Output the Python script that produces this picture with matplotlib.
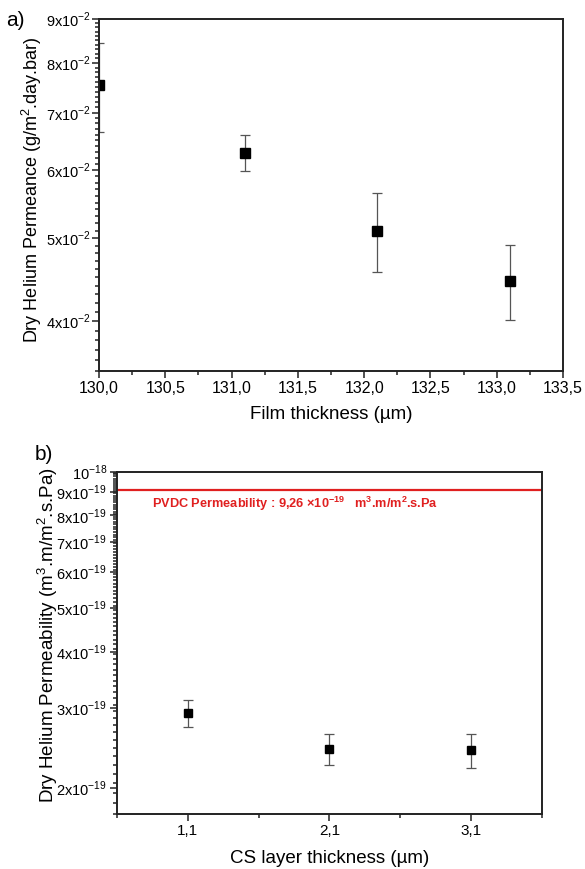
import numpy as np
import matplotlib
matplotlib.use("Agg")
import matplotlib.pyplot as plt
from matplotlib.ticker import FixedLocator, FuncFormatter, NullFormatter

plt.rcParams["font.family"] = ["Liberation Sans", "DejaVu Sans"]
plt.rcParams["mathtext.fontset"] = "custom"
plt.rcParams["mathtext.rm"] = "Liberation Sans"
plt.rcParams["mathtext.bf"] = "Liberation Sans:bold"

# panel a: film thickness vs dry helium permeance
film_thickness = [130.0, 131.1, 132.1, 133.1]
permeance = [0.0754, 0.0629, 0.0510, 0.0446]
permeance_err = [0.0090, 0.0031, 0.0054, 0.0045]

# panel b: CS layer thickness vs dry helium permeability
cs_thickness = [1.1, 2.1, 3.1]
permeability = [2.92e-19, 2.44e-19, 2.42e-19]
permeability_err = [0.20e-19, 0.19e-19, 0.21e-19]
pvdc_line = 9.1e-19

a_yticks = [0.04, 0.05, 0.06, 0.07, 0.08, 0.09]
a_xticks = [130.0, 130.5, 131.0, 131.5, 132.0, 132.5, 133.0, 133.5]
b_yticks = [2e-19, 3e-19, 4e-19, 5e-19, 6e-19, 7e-19, 8e-19, 9e-19, 1e-18]
b_ylabels = [r"2x10$^{-19}$", r"3x10$^{-19}$", r"4x10$^{-19}$", r"5x10$^{-19}$",
             r"6x10$^{-19}$", r"7x10$^{-19}$", r"8x10$^{-19}$", r"9x10$^{-19}$", r"10$^{-18}$"]


def style_axes(ax):
    for s in ax.spines.values():
        s.set_linewidth(1.4)
        s.set_color("#222222")
    ax.tick_params(which="both", direction="out", top=False, right=False, width=1.1, color="#222222")
    ax.tick_params(which="major", length=5, pad=2)
    ax.tick_params(which="minor", length=3)


fig = plt.figure(figsize=(5.85, 8.69), dpi=100)

# ---- a) ----
ax1 = fig.add_axes([0.1692, 0.5731, 0.7932, 0.4050])
ax1.errorbar(film_thickness, permeance, yerr=permeance_err, fmt="s", color="black",
             ms=6.5, ecolor="#555555", elinewidth=0.9, capsize=3.5, capthick=0.9)
ax1.set_yscale("log")
ax1.set_xlim(130.0, 133.5)
ax1.set_ylim(0.035, 0.09)
ax1.yaxis.set_major_locator(FixedLocator(a_yticks))
ax1.yaxis.set_minor_locator(FixedLocator(np.arange(0.035, 0.0905, 0.001)))
ax1.yaxis.set_major_formatter(FuncFormatter(lambda v, p: r"%dx10$^{-2}$" % round(v * 100)))
ax1.yaxis.set_minor_formatter(NullFormatter())
ax1.xaxis.set_major_locator(FixedLocator(a_xticks))
ax1.xaxis.set_minor_locator(FixedLocator(np.arange(130.25, 133.5, 0.5)))
ax1.xaxis.set_major_formatter(FuncFormatter(lambda v, p: f"{v:.1f}".replace(".", ",")))
style_axes(ax1)
ax1.tick_params(axis="y", labelsize=10.5, pad=1)
ax1.tick_params(axis="x", labelsize=11.5)
ax1.set_ylabel("Dry Helium Permeance (g/m$^{2}$.day.bar)", fontsize=13)
ax1.yaxis.set_label_coords(-0.118, 0.515)
ax1.set_xlabel("Film thickness (\u00b5m)", fontsize=13.5)
ax1.xaxis.set_label_coords(0.5, -0.1)
fig.text(15 / 585, 1 - 20 / 869, "a)", fontsize=15, ha="center", va="center")

# ---- b) ----
ax2 = fig.add_axes([0.2, 0.0633, 0.726, 0.3941])
ax2.errorbar(cs_thickness, permeability, yerr=permeability_err, fmt="s", color="black",
             ms=6, ecolor="#555555", elinewidth=0.9, capsize=3.5, capthick=0.9)
ax2.axhline(pvdc_line, color="#e02020", lw=1.6)
ax2.set_yscale("log")
ax2.set_xlim(0.6, 3.6)
ax2.set_ylim(1.75e-19, 1e-18)
ax2.set_yticks(b_yticks, b_ylabels)
ax2.yaxis.set_minor_locator(FixedLocator(np.arange(1.75e-19, 1.0e-18, 0.1e-19)))
ax2.yaxis.set_minor_formatter(NullFormatter())
ax2.set_xticks(cs_thickness, [f"{v:.1f}".replace(".", ",") for v in cs_thickness])
ax2.xaxis.set_minor_locator(FixedLocator([0.6, 1.6, 2.6, 3.6]))
style_axes(ax2)
ax2.tick_params(axis="y", labelsize=10.5, pad=2)
ax2.tick_params(axis="x", labelsize=11)
ax2.set_ylabel("Dry Helium Permeability (m$^{3}$.m/m$^{2}$.s.Pa)", fontsize=13.5)
ax2.yaxis.set_label_coords(-0.134, 0.523)
ax2.set_xlabel("CS layer thickness (\u00b5m)", fontsize=13.5)
ax2.xaxis.set_label_coords(0.5, -0.105)
ax2.text(0.082, 0.905,
         r"PVDC Permeability : 9,26 $\mathbf{\times10^{-19}}$   $\mathbf{m^{3}}$.m/m$\mathbf{^{2}}$.s.Pa",
         transform=ax2.transAxes, color="#e02020", fontsize=9.2, fontweight="bold", va="center", ha="left")
fig.text(44 / 585, 1 - 454 / 869, "b)", fontsize=15, ha="center", va="center")

fig.savefig("out.png", dpi=100)
